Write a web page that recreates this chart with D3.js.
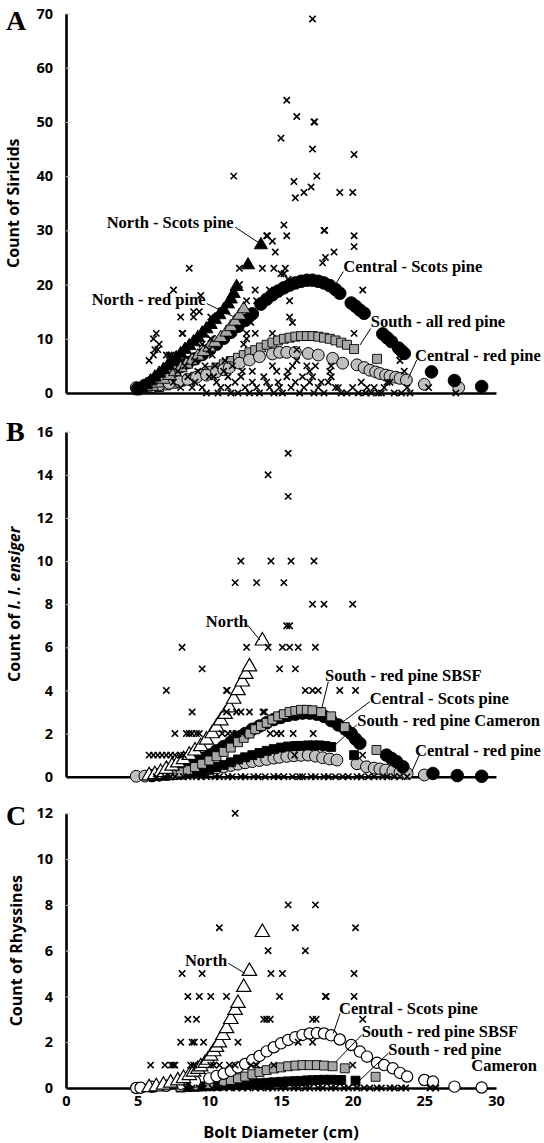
<!DOCTYPE html>
<html>
<head>
<meta charset="utf-8">
<script src="https://cdn.jsdelivr.net/npm/d3@7"></script>
<style>
  body { margin: 0; background: #fff; }
  .lbl { font-family: "Liberation Serif", "Times New Roman", serif; font-weight: 700; font-size: 16.5px; fill: #000; }
  .ttl { font-family: "Open Sans", sans-serif; font-weight: 700; font-size: 16px; fill: #000; }
  .letter { font-family: "Liberation Serif", "Times New Roman", serif; font-weight: 700; font-size: 28px; fill: #000; }
</style>
</head>
<body>
<script>
// tick values
const xTicks = [0, 5, 10, 15, 20, 25, 30];
const siricidTicks = [0, 10, 20, 30, 40, 50, 60, 70];
const ensigerTicks = [0, 2, 4, 6, 8, 10, 12, 14, 16];
const rhyssTicks = [0, 2, 4, 6, 8, 10, 12];

// ---- A: siricids, [diameter, count]
const siricidObs = [
  [17.2,69],[15.4,54],[16.1,51],[17.3,50],[17.35,50],[15.0,47],[17.2,45],[20.1,44],[11.7,40],[17.5,40],
  [15.9,39],[17.1,38],[16.6,37],[16.0,36],[19.1,37],[20.0,37],[15.2,31],[15.4,29],[18.0,30],[18.05,30],
  [20.1,29],[20.1,27],[14.0,29],[14.05,29],[14.4,28],[14.6,26],[18.7,26],[18.1,25],[17.9,24],[20.7,19],
  [8.6,23],[12.1,23],[13.7,23],[14.5,23],[15.3,23],[15.0,22],[15.2,22],[15.5,21],[7.5,19],[12.1,20],
  [13.2,19],[14.2,19],[9.4,18],[12.6,17],[13.3,17],[15.6,17],[8.0,14],[8.9,14],[8.9,15],[9.3,15],
  [10.1,14],[15.6,14],[15.8,13],[8.1,11],[8.15,11],[13.2,11],[14.4,11],[20.1,11],[12.6,10],[12.4,9],
  [6.1,10],[6.5,9],[6.4,8],[5.8,6],[6.1,7],[7.2,7],[16.1,8],[23.3,6],[23.6,4],[18.5,5],
  [12.1,12],[12.9,13],[12.6,11],[10.1,10],[10.2,7],[9.5,9],[10.0,8],[6.3,11],[6.2,8],[7.0,7],
  [7.35,7],[7.7,6],[16.1,6],[16.8,5],[17.2,3],[18.4,4],[14.4,5],[14.7,4],[13.0,4],[15.8,5],
  [17.0,4],[17.4,5],[18.5,3],[23.3,7],[22.4,2],[22.6,2],[25.3,1],[27.2,0],[21.5,1],
  [8.5,3],[9.0,2],[9.5,1],[10.0,3],[10.5,2],[11.0,4],[11.3,1],[11.8,2],[12.2,3],[12.5,1],
  [13.0,2],[13.5,0],[13.8,3],[14.2,1],[14.8,2],[15.1,0],[15.4,3],[15.7,1],[16.0,2],[16.3,0],
  [16.6,1],[17.0,2],[17.3,0],[17.6,1],[18.0,0],[18.3,2],[18.8,1],[19.2,0],[19.6,0],[20.0,1],
  [20.4,0],[20.9,0],[21.3,0],[21.8,0],[22.2,1],[22.9,0],[23.4,0],[23.8,1],[24.0,0],[9.8,0],
  [10.6,0],[11.5,0],[12.0,0],[12.8,0],[14.5,0],[8.8,1],[9.2,4],[10.4,5],[11.1,6],[11.6,5],
  [12.3,4],[10.8,1],[13.3,1],[14.0,2],[14.9,1],[15.5,4],[16.5,3],[17.8,2],[19.0,1],[20.6,2],
  [21.0,1],[22.0,0],[7.5,2],[8.0,1],[7.8,4],[8.3,5],[9.0,6],[9.7,5],[10.3,3],[11.3,3]
];
const siricidNorthScots = [
  [5.3,0.8],[5.6,1.5],[5.9,2.2],[6.2,2.9],[6.5,3.6],[6.8,4.3],[7.1,5.0],[7.4,5.8],[7.7,6.5],[8.0,7.2],
  [8.3,8.0],[8.6,8.7],[8.9,9.4],[9.2,10.2],[9.5,11.0],[9.8,11.8],[10.1,12.6],[10.4,13.5],[10.7,14.4],
  [11.0,15.3],[11.3,16.4],[11.5,17.3],[11.7,18.3],[11.9,19.6],[12.7,23.6],[13.6,27.3]
];
const siricidNorthRed = [
  [6.0,1.2],[6.4,1.8],[6.8,2.5],[7.2,3.2],[7.6,3.9],[8.0,4.6],[8.4,5.3],[8.8,6.0],[9.2,6.8],[9.6,7.6],
  [10.0,8.4],[10.4,9.3],[10.8,10.2],[11.2,11.2],[11.5,12.2],[11.8,13.2],[12.1,14.3],[12.4,15.5]
];
const siricidCentralScots = [
  [5.0,0.8],[5.5,1.4],[6.0,2.1],[6.5,2.8],[7.0,3.5],[7.5,4.2],[8.0,4.9],[8.5,5.6],[9.0,6.3],[9.5,7.1],
  [10.0,8.0],[10.5,9.0],[11.0,10.1],[11.5,11.2],[12.0,12.3],[12.5,13.4],[13.0,14.6],[13.6,16.4],[14.0,17.3],
  [14.4,18.1],[14.8,18.8],[15.2,19.4],[15.6,19.9],[16.0,20.3],[16.4,20.6],[16.8,20.8],[17.2,20.8],[17.6,20.6],
  [18.0,20.3],[18.4,19.8],[18.8,19.1],[19.1,18.4],[19.9,16.6],[20.2,16.0],[20.5,15.3],[20.8,14.7],[22.1,10.9],
  [22.4,10.2],[22.7,9.5],[23.2,8.3],[23.4,7.8],[23.6,7.3],[25.5,3.9],[27.1,2.3],[29.0,1.2]
];
const siricidSouthAll = [
  [5.0,0.5],[5.5,0.7],[6.0,0.9],[6.5,1.1],[7.0,1.4],[7.5,1.7],[8.0,2.1],[8.5,2.5],[9.0,3.0],[9.5,3.5],
  [10.0,4.1],[10.5,4.7],[11.0,5.3],[11.5,5.9],[12.0,6.5],[12.4,7.0],[12.8,7.5],[13.2,7.9],[13.6,8.4],[14.0,8.9],
  [14.4,9.3],[14.8,9.7],[15.2,10.0],[15.6,10.2],[16.0,10.4],[16.4,10.5],[16.8,10.5],[17.2,10.5],[17.6,10.4],
  [18.0,10.2],[18.4,10.0],[18.8,9.7],[19.2,9.3],[19.6,8.9],[20.1,8.1],[21.7,6.3]
];
const siricidCentralRed = [
  [4.9,1.0],[5.7,1.2],[6.5,1.5],[7.2,1.8],[7.9,2.1],[8.5,2.5],[9.1,2.9],[9.8,3.3],[10.5,3.9],[11.0,4.3],
  [11.4,4.7],[12.1,5.5],[12.8,6.1],[13.5,6.7],[14.4,7.2],[14.9,7.5],[15.4,7.5],[16.0,7.5],[16.9,7.3],[17.6,7.0],
  [18.6,6.4],[19.3,5.5],[20.3,5.2],[20.8,4.7],[21.2,4.2],[21.6,3.9],[21.9,3.6],[22.3,3.3],[22.6,3.1],[23.0,2.9],
  [23.3,2.7],[23.75,2.4],[25.0,1.6],[27.4,1.0]
];

// ---- B: I. I. ensiger
const ensigerObs = [
  [15.5,15],[14.1,14],[15.5,13],[12.2,10],[14.3,10],[15.7,10],[17.3,10],[11.8,9],[13.3,9],[15.2,9],
  [17.2,8],[18.0,8],[20.0,8],[15.4,7],[15.6,7],[8.1,6],[12.6,6],[14.1,6],[15.1,6],[15.6,6],
  [16.2,6],[17.4,6],[9.5,5],[14.9,5],[16.0,5],[7.0,4],[11.2,4],[11.25,4],[16.7,4],[17.2,4],
  [17.6,4],[19.1,4],[20.2,4],[8.8,3],[11.2,3],[11.9,3],[12.2,3],[12.8,3],[13.75,3],[13.85,3],
  [7.6,2],[8.4,2],[8.6,2],[8.8,2],[9.1,2],[9.3,2],[10.9,2],[11.3,2],[11.6,2],[11.85,2],
  [12.0,2],[12.3,2],[14.25,2],[14.7,2],[15.0,2],[15.85,2],[17.25,2],[5.8,1],[6.1,1],[6.4,1],
  [6.7,1],[7.0,1],[7.3,1],[7.6,1],[8.0,1],[8.2,1],[15.95,1],[20.7,1],
  [6.3,0],[6.9,0],[7.3,0],[7.6,0],[8.2,0],[8.5,0],[9.1,0],[9.4,0],[9.8,0],[10.4,0],
  [10.7,0],[11.3,0],[11.6,0],[12.2,0],[12.5,0],[13.1,0],[13.4,0],[13.9,0],[14.5,0],[14.8,0],
  [15.2,0],[15.8,0],[16.3,0],[16.5,0],[17.1,0],[17.4,0],[18.0,0],[18.3,0],[18.8,0],[19.3,0],
  [19.7,0],[20.3,0],[20.6,0],[21.1,0],[21.5,0],[22.1,0],[22.4,0],[22.9,0],[23.3,0],[23.8,0]
];
const ensigerNorth = [
  [5.8,0.05],[6.2,0.1],[6.6,0.2],[7.0,0.35],[7.4,0.5],[7.8,0.65],[8.2,0.8],[8.6,1.0],[9.0,1.2],[9.4,1.4],
  [9.8,1.7],[10.2,2.0],[10.5,2.3],[10.8,2.6],[11.1,2.9],[11.4,3.2],[11.7,3.6],[12.0,4.0],[12.3,4.4],[12.55,4.75],
  [12.8,5.1],[13.7,6.3]
];
const ensigerSBSF = [
  [7.5,0.1],[8.0,0.2],[8.5,0.3],[9.0,0.45],[9.5,0.6],[10.0,0.75],[10.5,0.95],[11.0,1.15],[11.5,1.35],[12.0,1.6],
  [12.4,1.8],[12.8,2.0],[13.2,2.2],[13.6,2.35],[14.0,2.5],[14.4,2.65],[14.8,2.8],[15.2,2.9],[15.6,3.0],[16.0,3.05],
  [16.4,3.1],[16.8,3.1],[17.2,3.08],[17.8,3.0],[18.5,2.8],[19.45,2.3],[21.66,1.24]
];
const ensigerCentralScots = [
  [6.0,0.05],[6.5,0.1],[7.0,0.2],[7.5,0.3],[8.0,0.4],[8.5,0.55],[9.0,0.7],[9.5,0.85],[10.0,1.0],[10.5,1.2],
  [11.0,1.4],[11.5,1.6],[12.0,1.8],[12.5,2.0],[13.0,2.2],[13.5,2.35],[14.0,2.5],[14.5,2.65],[15.0,2.75],[15.5,2.85],
  [16.0,2.9],[16.5,2.95],[17.0,2.95],[17.5,2.9],[18.0,2.8],[18.5,2.6],[19.0,2.4],[19.5,2.2],[19.9,2.0],[20.2,1.75],
  [20.5,1.55],[22.36,1.0],[22.7,0.85],[23.06,0.7],[23.5,0.46],[25.6,0.15],[27.3,0.05],[29.0,0.02]
];
const ensigerCameron = [
  [7.0,0.05],[7.5,0.08],[8.0,0.1],[8.5,0.15],[9.0,0.2],[9.5,0.27],[10.0,0.35],[10.5,0.45],[11.0,0.55],[11.5,0.67],
  [12.0,0.8],[12.5,0.9],[13.0,1.0],[13.5,1.1],[14.0,1.2],[14.5,1.28],[15.0,1.35],[15.5,1.4],[16.0,1.42],[16.3,1.43],
  [16.9,1.45],[17.3,1.45],[17.7,1.45],[18.1,1.42],[18.5,1.38],[20.1,1.0]
];
const ensigerCentralRed = [
  [4.9,0.02],[5.5,0.03],[6.0,0.05],[6.5,0.07],[7.0,0.1],[7.5,0.13],[8.0,0.17],[8.5,0.2],[9.0,0.25],[9.5,0.3],
  [10.0,0.35],[10.5,0.4],[11.0,0.45],[11.5,0.52],[12.0,0.58],[12.5,0.64],[13.0,0.7],[13.5,0.75],[14.0,0.8],[14.5,0.86],
  [14.9,0.9],[15.4,0.94],[15.9,0.97],[16.4,0.99],[16.9,1.0],[17.4,0.95],[17.9,0.88],[18.4,0.82],[18.9,0.77],[20.3,0.6],
  [20.96,0.46],[21.5,0.4],[21.9,0.36],[22.3,0.31],[22.8,0.26],[23.3,0.21],[23.8,0.16],[25.0,0.08]
];

// ---- C: rhyssines
const rhyssObs = [
  [11.8,12],[15.5,8],[17.4,8],[10.7,7],[16.0,7],[20.2,7],[14.1,6],[16.7,6],[8.1,5],[9.5,5],
  [14.3,5],[15.1,5],[20.1,5],[8.5,4],[9.3,4],[10.1,4],[11.2,4],[14.9,4],[18.1,4],[18.15,4],
  [20.1,4],[8.5,3],[9.1,3],[13.8,3],[14.0,3],[14.25,3],[17.2,3],[17.45,3],[20.7,3],[8.0,2],
  [8.8,2],[8.95,2],[9.6,2],[12.0,2],[16.2,2],[17.2,2],[5.9,1],[6.9,1],[7.35,1],[7.5,1],
  [7.6,1],[8.7,1],[8.9,1],[10.1,1],[10.3,1],[10.7,1],[11.4,1],[11.8,1],[12.9,1],[13.3,1],
  [14.5,1],[20.0,1],
  [8.4,0],[8.8,0],[9.3,0],[9.6,0],[10.2,0],[10.5,0],[11.0,0],[11.4,0],[11.9,0],[12.3,0],
  [12.7,0],[13.2,0],[13.6,0],[14.1,0],[14.4,0],[15.0,0],[15.3,0],[15.9,0],[16.2,0],[16.7,0],
  [17.0,0],[17.6,0],[17.9,0],[18.5,0],[18.8,0],[19.4,0],[19.7,0],[20.3,0],[20.8,0],[21.2,0],
  [21.7,0],[22.0,0],[22.6,0],[22.9,0],[23.4,0],[23.7,0],[25.4,0],[25.8,0]
];
const rhyssNorth = [
  [5.8,0.02],[6.3,0.06],[6.8,0.13],[7.3,0.22],[7.8,0.32],[8.2,0.42],[8.6,0.55],[8.9,0.7],[9.2,0.82],[9.4,0.93],
  [9.7,1.08],[9.9,1.22],[10.1,1.4],[10.3,1.59],[10.5,1.78],[10.7,1.98],[10.95,2.3],[11.2,2.6],[11.5,3.0],[11.8,3.4],
  [12.0,3.7],[12.4,4.4],[12.8,5.1],[13.7,6.8]
];
const rhyssCentralScots = [
  [4.9,0],[5.2,0.01],[6.0,0.05],[7.0,0.1],[8.0,0.18],[9.0,0.28],[10.0,0.42],[10.5,0.52],[11.0,0.62],[11.5,0.75],
  [12.0,0.9],[12.5,1.05],[13.0,1.22],[13.5,1.4],[14.0,1.6],[14.5,1.78],[15.0,1.95],[15.5,2.1],[16.0,2.22],[16.5,2.32],
  [17.0,2.38],[17.5,2.4],[18.0,2.38],[18.5,2.3],[19.1,2.12],[19.9,1.88],[20.5,1.59],[21.0,1.37],[21.7,1.1],[22.2,1.0],
  [22.8,0.86],[23.3,0.66],[23.8,0.5],[25.0,0.35],[25.6,0.28],[27.1,0.06],[29.0,0.02]
];
const rhyssSBSF = [
  [8.0,0.05],[9.0,0.1],[10.0,0.18],[11.0,0.28],[11.5,0.35],[12.0,0.42],[12.5,0.5],[13.0,0.6],[13.5,0.7],[14.0,0.78],
  [14.5,0.85],[15.0,0.9],[15.5,0.95],[16.0,0.98],[16.5,1.0],[17.0,1.0],[17.5,1.0],[18.0,0.98],[18.6,0.95],[19.45,0.86],
  [21.6,0.49]
];
const rhyssCameron = [
  [8.0,0.02],[8.5,0.04],[9.0,0.05],[9.5,0.07],[10.0,0.08],[10.5,0.1],[11.0,0.11],[11.5,0.13],[12.0,0.15],[12.5,0.17],
  [13.0,0.19],[13.5,0.21],[14.0,0.23],[14.5,0.25],[15.0,0.27],[15.5,0.29],[16.0,0.3],[16.4,0.31],[16.8,0.33],[17.2,0.34],
  [17.6,0.35],[18.0,0.36],[18.5,0.36],[19.0,0.35],[19.2,0.35],[20.2,0.32]
];

const W = 544, H = 1143;
const svg = d3.select("body").append("svg").attr("width", W).attr("height", H);
const x = d3.scaleLinear().domain([0, 30]).range([66, 496]);

const crossSym = {
  draw(ctx, size) {
    const r = Math.sqrt(size) / 2;
    ctx.moveTo(-r, -r); ctx.lineTo(r, r);
    ctx.moveTo(r, -r); ctx.lineTo(-r, r);
  }
};

const marks = {
  sqGray:  { type: d3.symbolSquare, size: 80, fill: "#a6a6a6", stroke: "#000", sw: 0.9 },
  sqBlack: { type: d3.symbolSquare, size: 80, fill: "#000", stroke: "#000", sw: 0.9 },
  ciGray:  { type: d3.symbolCircle, size: 110, fill: "#bfbfbf", stroke: "#000", sw: 1 },
  ciBlack: { type: d3.symbolCircle, size: 125, fill: "#000", stroke: "#000", sw: 0.9 },
  ciWhite: { type: d3.symbolCircle, size: 100, fill: "#fff", stroke: "#000", sw: 1.2 },
  trBlack: { type: d3.symbolTriangle, size: 75, fill: "#000", stroke: "#000", sw: 0.9 },
  trGray:  { type: d3.symbolTriangle, size: 75, fill: "#a6a6a6", stroke: "#000", sw: 0.9 },
  trWhite: { type: d3.symbolTriangle, size: 90, fill: "#fff", stroke: "#000", sw: 1.2 },
  cross:   { type: crossSym, size: 40, fill: "none", stroke: "#000", sw: 1.6 }
};

const panels = [
  {
    letter: "A", letterY: 30, range: [393, 13.5], ymax: 70, ticks: siricidTicks,
    title: [["Count of Siricids", false]], titleX: 19,
    series: [[siricidSouthAll, "sqGray"], [siricidCentralRed, "ciGray"], [siricidCentralScots, "ciBlack"],
             [siricidNorthRed, "trGray"], [siricidNorthScots, "trBlack"]],
    obs: siricidObs, xLabels: false,
    labels: [
      { t: "North - Scots pine", at: [2.84, 30.4], from: [11.8, 30.6], to: [13.4, 27.8] },
      { t: "North - red pine", at: [1.79, 16.2], from: [9.82, 16.5], to: [11.67, 14.1] },
      { t: "Central - Scots pine", at: [19.35, 22.3], from: [19.35, 22.4], to: [18.77, 19.9] },
      { t: "South - all red pine", at: [21.26, 12.2], from: [21.26, 11.9], to: [20.51, 8.85] },
      { t: "Central - red pine", at: [24.35, 5.9], from: [24.47, 6.1], to: [23.88, 2.7] }
    ]
  },
  {
    letter: "B", letterY: 441, range: [776.7, 431.7], ymax: 16, ticks: ensigerTicks,
    title: [["Count of ", false], ["I. I. ensiger", true]], titleX: 20,
    series: [[ensigerCentralRed, "ciGray"], [ensigerCameron, "sqBlack"], [ensigerCentralScots, "ciBlack"],
             [ensigerSBSF, "sqGray"], [ensigerNorth, "trWhite"]],
    obs: ensigerObs, xLabels: false,
    labels: [
      { t: "North", at: [9.75, 6.94], from: [12.65, 7.04], to: [13.53, 6.34] },
      { t: "South - red pine SBSF", at: [18.07, 4.44], from: [18.3, 4.41], to: [17.84, 3.17] },
      { t: "Central - Scots pine", at: [21.2, 3.37], from: [21.2, 3.48], to: [19.23, 2.5] },
      { t: "South - red pine Cameron", at: [20.32, 2.35], from: [20.28, 2.4], to: [18.65, 1.39] },
      { t: "Central - red pine", at: [24.35, 0.96], from: [24.7, 1.09], to: [24.12, 0.23] }
    ]
  },
  {
    letter: "C", letterY: 825, range: [1088, 813.3], ymax: 12, ticks: rhyssTicks,
    title: [["Count of Rhyssines", false]], titleX: 22,
    series: [[rhyssCameron, "sqBlack"], [rhyssSBSF, "sqGray"], [rhyssCentralScots, "ciWhite"],
             [rhyssNorth, "trWhite"]],
    obs: rhyssObs, xLabels: true,
    labels: [
      { t: "North", at: [8.3, 5.33], from: [11.32, 5.45], to: [12.49, 5.01] },
      { t: "Central - Scots pine", at: [19.05, 3.23], from: [19.12, 3.26], to: [18.65, 2.39] },
      { t: "South - red pine SBSF", at: [20.63, 2.23], from: [20.63, 2.32], to: [18.84, 1.15] },
      { t: "South - red pine", at: [22.49, 1.44], from: [22.49, 1.52], to: [20.51, 0.35] },
      { t: "Cameron", at: [32.86, 0.74], anchor: "end" }
    ]
  }
];

function drawMarks(g, y, pts, st) {
  g.append("g").selectAll("path")
    .data(pts)
    .join("path")
    .attr("transform", d => "translate(" + x(d[0]) + "," + y(d[1]) + ")")
    .attr("d", d3.symbol(st.type, st.size)())
    .attr("fill", st.fill)
    .attr("stroke", st.stroke)
    .attr("stroke-width", st.sw);
}

function styleTicks(axisG) {
  axisG.selectAll(".tick text")
    .style("font-family", "'Open Sans', sans-serif")
    .style("font-weight", "700")
    .style("font-size", "14.5px")
    .style("fill", "#000");
}

panels.forEach(p => {
  const y = d3.scaleLinear().domain([0, p.ymax]).range(p.range);
  const g = svg.append("g");

  // y axis
  const ya = g.append("g")
    .attr("transform", "translate(" + x(0) + ",0)")
    .call(d3.axisLeft(y).tickValues(p.ticks).tickSizeInner(-4).tickSizeOuter(0).tickPadding(13));
  ya.select(".domain").attr("stroke", "#000").attr("stroke-width", 2.6);
  ya.selectAll(".tick line").attr("stroke", "#c8c8c8");
  styleTicks(ya);

  // x axis
  const xa = g.append("g")
    .attr("transform", "translate(0," + y(0) + ")")
    .call(d3.axisBottom(x).tickValues(p.xLabels ? xTicks : []).tickSize(0).tickPadding(8));
  xa.select(".domain").attr("stroke", "#000").attr("stroke-width", 2.6);
  styleTicks(xa);

  // fitted series then observations
  p.series.forEach(s => drawMarks(g, y, s[0], marks[s[1]]));
  drawMarks(g, y, p.obs, marks.cross);

  // annotations
  p.labels.forEach(l => {
    if (l.from) {
      g.append("line")
        .attr("x1", x(l.from[0])).attr("y1", y(l.from[1]))
        .attr("x2", x(l.to[0])).attr("y2", y(l.to[1]))
        .attr("stroke", "#000").attr("stroke-width", 1);
    }
    g.append("text").attr("class", "lbl")
      .attr("x", x(l.at[0])).attr("y", y(l.at[1]))
      .attr("text-anchor", l.anchor || "start")
      .text(l.t);
  });

  // panel letter
  g.append("text").attr("class", "letter").attr("x", 6).attr("y", p.letterY).text(p.letter);

  // y title
  const cy = (p.range[0] + p.range[1]) / 2;
  const tt = g.append("text").attr("class", "ttl")
    .attr("text-anchor", "middle")
    .attr("transform", "translate(" + p.titleX + "," + cy + ") rotate(-90)");
  p.title.forEach(part => {
    tt.append("tspan").attr("font-style", part[1] ? "italic" : "normal").text(part[0]);
  });
});

svg.append("text").attr("class", "ttl")
  .attr("x", (x(0) + x(30)) / 2).attr("y", 1138)
  .attr("text-anchor", "middle")
  .style("font-size", "16.5px")
  .text("Bolt Diameter (cm)");
</script>
</body>
</html>
